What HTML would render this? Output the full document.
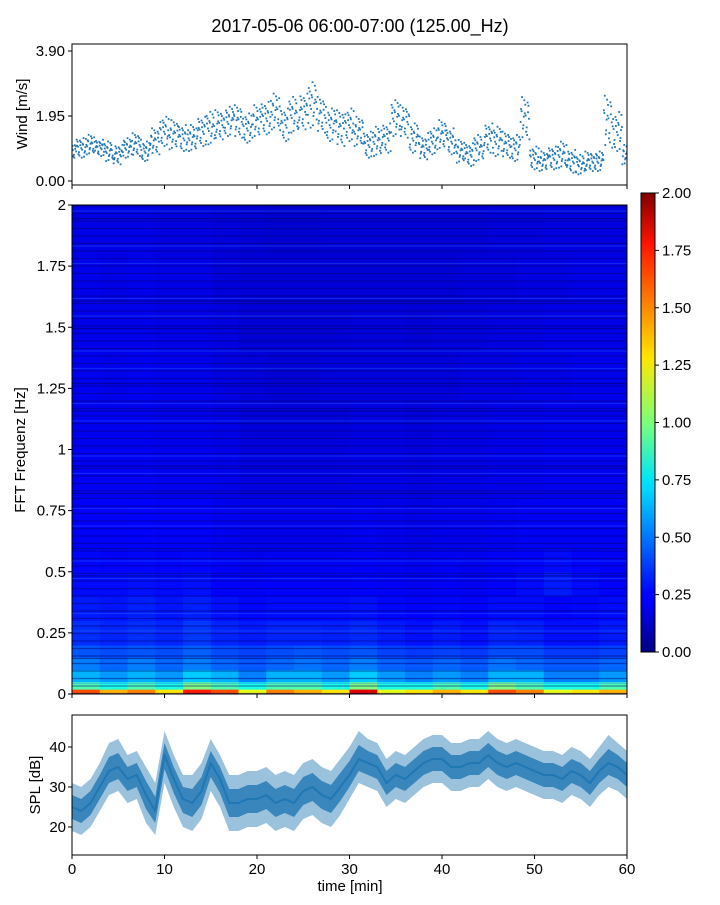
<!DOCTYPE html>
<html><head><meta charset="utf-8"><style>
html,body{margin:0;padding:0;background:#fff;}
svg text{font-family:"Liberation Sans","DejaVu Sans",sans-serif;fill:#000;}
</style></head><body>
<svg id="fig" width="720" height="900" viewBox="0 0 720 900" xmlns="http://www.w3.org/2000/svg">
<rect width="720" height="900" fill="#fff"/>
<text x="360" y="32" font-size="18" text-anchor="middle">2017-05-06 06:00-07:00 (125.00_Hz)</text>
<defs>
<linearGradient id="jet" x1="0" y1="1" x2="0" y2="0">
<stop offset="0" stop-color="#00007f"/><stop offset="0.11" stop-color="#0000ff"/><stop offset="0.125" stop-color="#0000ff"/>
<stop offset="0.35" stop-color="#00d4ff"/><stop offset="0.375" stop-color="#00e5f7"/><stop offset="0.5" stop-color="#7cff79"/>
<stop offset="0.64" stop-color="#ffe600"/><stop offset="0.89" stop-color="#ff1300"/><stop offset="1" stop-color="#7f0000"/>
</linearGradient>
<clipPath id="c1"><rect x="72" y="44" width="555" height="141"/></clipPath>
<clipPath id="c3"><rect x="72" y="715" width="555" height="140"/></clipPath>
</defs>
<g id="wind"></g>
<g id="spec"></g>
<g id="cbar"></g>
<g id="spl"></g>
</svg>
<script>
// ---- data ----
const windMean=[0.9,1.0,1.1,1.0,0.9,0.8,1.0,1.1,0.9,1.2,1.5,1.4,1.3,1.3,1.5,1.6,1.7,1.8,1.8,1.6,1.8,1.9,2.1,1.7,2.0,2.1,2.3,2.0,1.7,1.6,1.7,1.5,1.1,1.2,1.3,1.9,1.8,1.3,1.0,1.2,1.4,1.2,0.9,0.8,1.0,1.3,1.2,1.1,1.0,1.9,0.7,0.6,0.7,0.8,0.6,0.5,0.6,0.6,1.8,1.5,0.8];
const windSpread=[0.5,0.6,0.6,0.5,0.6,0.6,0.6,0.7,0.6,0.8,0.9,0.9,0.8,0.8,0.9,1.0,0.9,0.9,1.0,0.9,1.0,1.0,1.1,1.0,1.1,1.1,1.4,1.1,1.0,1.1,1.0,0.9,0.8,0.9,0.9,1.1,1.0,0.9,0.7,0.8,0.9,0.8,0.7,0.7,0.8,0.9,0.9,0.8,0.8,1.3,0.7,0.6,0.7,0.8,0.7,0.6,0.6,0.6,1.6,1.2,0.6];
const splMean=[25,24,26,30,34,35,32,33,28,24,38,32,27,26,29,36,32,26,26,27,27,28,26,27,26,29,30,28,27,30,33,37,36,35,31,33,32,34,36,37,37,35,35,36,36,38,36,35,36,35,34,33,33,32,34,33,31,34,36,35,33];
const splLo=[19,18,20,24,28,29,26,27,21,18,31,25,20,19,22,29,25,19,19,20,20,21,19,20,19,22,23,21,20,23,27,31,30,29,25,27,26,28,30,31,31,29,29,30,30,32,30,29,30,29,28,27,27,26,28,27,25,28,30,29,27];
const splHi=[31,30,32,36,41,42,38,39,35,31,44,38,33,33,36,42,38,33,33,34,34,35,33,34,33,36,37,35,34,37,40,44,42,41,37,39,38,40,42,43,43,41,41,42,42,44,42,41,42,41,40,39,39,38,40,39,37,40,43,41,39];
const freqEdges=[0,0.02,0.05,0.1,0.15,0.2,0.3,0.4,0.5,0.6,0.8,1.0,1.2,1.4,1.6,1.8,2.0];
const timeEdges=[0,3,6,9,12,15,18,21,24,27,30,33,36,39,42,45,48,51,54,57,60];
const specVals=[
[1.6,1.4,1.5,1.3,1.7,1.6,1.2,1.5,1.4,1.3,1.8,1.2,1.3,1.4,1.3,1.6,1.5,1.2,1.3,1.4],
[0.9,0.8,0.9,0.8,1.0,0.9,0.8,0.9,0.9,0.8,1.0,0.8,0.8,0.9,0.8,1.0,0.9,0.8,0.8,0.9],
[0.6,0.55,0.6,0.55,0.65,0.6,0.5,0.6,0.6,0.55,0.65,0.55,0.5,0.55,0.5,0.6,0.6,0.5,0.5,0.55],
[0.5,0.45,0.5,0.45,0.5,0.45,0.42,0.45,0.48,0.45,0.5,0.44,0.42,0.45,0.42,0.48,0.45,0.42,0.42,0.45],
[0.42,0.4,0.42,0.4,0.44,0.4,0.38,0.4,0.42,0.4,0.42,0.38,0.36,0.38,0.36,0.4,0.4,0.36,0.36,0.38],
[0.34,0.32,0.34,0.32,0.36,0.32,0.3,0.32,0.32,0.31,0.33,0.3,0.28,0.3,0.28,0.32,0.31,0.28,0.28,0.3],
[0.3,0.29,0.31,0.29,0.31,0.28,0.26,0.27,0.27,0.27,0.28,0.26,0.25,0.26,0.25,0.27,0.27,0.25,0.26,0.27],
[0.27,0.27,0.28,0.27,0.28,0.25,0.24,0.25,0.25,0.24,0.25,0.24,0.23,0.24,0.23,0.25,0.27,0.3,0.27,0.25],
[0.26,0.25,0.26,0.25,0.26,0.24,0.22,0.23,0.23,0.23,0.24,0.23,0.22,0.23,0.22,0.24,0.25,0.27,0.25,0.24],
[0.24,0.24,0.25,0.24,0.24,0.22,0.21,0.21,0.21,0.21,0.22,0.21,0.2,0.21,0.21,0.22,0.23,0.23,0.23,0.23],
[0.23,0.23,0.23,0.22,0.22,0.21,0.19,0.19,0.19,0.19,0.2,0.2,0.19,0.2,0.2,0.21,0.21,0.22,0.22,0.22],
[0.22,0.22,0.22,0.21,0.21,0.2,0.18,0.18,0.18,0.18,0.19,0.19,0.18,0.19,0.19,0.2,0.2,0.21,0.21,0.21],
[0.22,0.21,0.22,0.21,0.21,0.19,0.18,0.17,0.17,0.18,0.18,0.18,0.18,0.18,0.19,0.19,0.2,0.2,0.21,0.21],
[0.21,0.21,0.21,0.2,0.2,0.19,0.17,0.17,0.17,0.17,0.18,0.18,0.17,0.18,0.18,0.19,0.19,0.2,0.2,0.2],
[0.21,0.2,0.21,0.2,0.2,0.18,0.17,0.17,0.17,0.17,0.17,0.17,0.17,0.17,0.18,0.18,0.19,0.19,0.2,0.2],
[0.2,0.2,0.2,0.19,0.19,0.18,0.17,0.16,0.16,0.17,0.17,0.17,0.17,0.17,0.17,0.18,0.18,0.19,0.19,0.19]];
const freqTicks=[0,0.25,0.5,0.75,1,1.25,1.5,1.75,2];
const freqTickLabels=["0","0.25","0.5","0.75","1","1.25","1.5","1.75","2"];
const cbTicks=[0,0.25,0.5,0.75,1,1.25,1.5,1.75,2];
const windTicks=[0,1.95,3.9];
const splTicks=[20,30,40];
const timeTicks=[0,10,20,30,40,50,60];

const NS="http://www.w3.org/2000/svg";
function mk(parent,tag,attrs,text){const e=document.createElementNS(NS,tag);for(const k in attrs)e.setAttribute(k,attrs[k]);if(text!==undefined)e.textContent=text;parent.appendChild(e);return e;}
const X0=72,X1=627;
const xs=t=>X0+(X1-X0)*t/60;
const yWind=v=>181-(181-51)*v/3.9;
const yFreq=f=>694-(694-205)*f/2;
const ySpl=v=>787-(787-747)*(v-30)/10;
const yCb=v=>652-(652-193)*v/2;
function jet(t){t=Math.max(0,Math.min(1,t));const c=x=>Math.round(255*Math.max(0,Math.min(1,1.5-Math.abs(4*t-x))));return `rgb(${c(3)},${c(2)},${c(1)})`;}

// ---- wind panel ----
const W=document.getElementById('wind');
const wd=mk(W,'g',{'clip-path':'url(#c1)'});


const offs=[-1,0.3,-0.5,0.8,0.1,-0.8,0.55,-0.2,0.95,-0.35,0.2,-0.65,0.7,-0.05,0.4,-0.9,0.05,0.6,-0.45,0.25];
const N=20;
for(let i=0;i<windMean.length;i++){
  for(let j=0;j<N;j++){
    const t=i-0.5+j/N;
    const v=windMean[i]+offs[(j*7+i*3)%N]*windSpread[i]/2;
    const p=mk(wd,'rect',{x:xs(t)-0.9,y:yWind(v)-0.9,width:1.8,height:1.8,fill:'#1f77b4'});
    
    
  }
}
mk(W,'rect',{x:X0,y:44,width:X1-X0,height:141,fill:'none',stroke:'#000','stroke-width':1});
windTicks.forEach(v=>{mk(W,'line',{x1:X0-4,x2:X0,y1:yWind(v),y2:yWind(v),stroke:'#000'});
  const t=mk(W,'text',{x:X0-7,y:yWind(v)+5,'font-size':15,'text-anchor':'end'},v.toFixed(2));
  });
timeTicks.forEach(v=>mk(W,'line',{x1:xs(v),x2:xs(v),y1:185,y2:189,stroke:'#000'}));
const wl=mk(W,'text',{x:27,y:114,'font-size':15,'text-anchor':'middle',transform:'rotate(-90 27 114)'},'Wind [m/s]');


// ---- spectrogram ----
const S=document.getElementById('spec');
for(let r=0;r<specVals.length;r++){for(let c=0;c<specVals[r].length;c++){
  const x=xs(timeEdges[c]),y=yFreq(freqEdges[r+1]);
  const cell=mk(S,'rect',{x:x,y:y,width:xs(timeEdges[c+1])-x+0.5,height:yFreq(freqEdges[r])-y+0.5,fill:jet(specVals[r][c]/2)});
  
  
}}
// horizontal streak texture
for(let k=0;k*2.5<488;k++){
  const y=206+k*2.5;
  let col=null;
  if(k%3===0)col='rgba(0,0,110,0.45)';
  else if(k%7===2)col='rgba(40,110,255,0.35)';
  else if(k%11===5)col='rgba(0,0,90,0.5)';
  if(col)mk(S,'line',{x1:X0,x2:X1,y1:y,y2:y,stroke:col,'stroke-width':1.3});
}
mk(S,'rect',{x:X0,y:205,width:X1-X0,height:489,fill:'none',stroke:'#000'});
freqTicks.forEach((v,i)=>{mk(S,'line',{x1:X0-4,x2:X0,y1:yFreq(v),y2:yFreq(v),stroke:'#000'});
  const t=mk(S,'text',{x:X0-6,y:yFreq(v)+5,'font-size':15,'text-anchor':'end'},freqTickLabels[i]);
  });
timeTicks.forEach(v=>mk(S,'line',{x1:xs(v),x2:xs(v),y1:694,y2:698,stroke:'#000'}));
const fl=mk(S,'text',{x:25,y:450,'font-size':15,'text-anchor':'middle',transform:'rotate(-90 25 450)'},'FFT Frequenz [Hz]');


// ---- colorbar ----
const C=document.getElementById('cbar');
mk(C,'rect',{x:641,y:193,width:14,height:459,fill:'url(#jet)',stroke:'#000'});
cbTicks.forEach(v=>{mk(C,'line',{x1:655,x2:659,y1:yCb(v),y2:yCb(v),stroke:'#000'});
  const t=mk(C,'text',{x:662,y:yCb(v)+5,'font-size':15},v.toFixed(2));
  });

// ---- SPL ----
const P=document.getElementById('spl');
const g3=mk(P,'g',{'clip-path':'url(#c3)'});
let d='';for(let i=0;i<splHi.length;i++)d+=(i?'L':'M')+xs(i)+','+ySpl(splHi[i]);
for(let i=splLo.length-1;i>=0;i--)d+='L'+xs(i)+','+ySpl(splLo[i]);
const band=mk(g3,'path',{d:d+'Z',fill:'#1f77b4','fill-opacity':0.45});

let d3='';for(let i=0;i<splHi.length;i++)d3+=(i?'L':'M')+xs(i)+','+ySpl((splHi[i]+splMean[i])/2);
for(let i=splLo.length-1;i>=0;i--)d3+='L'+xs(i)+','+ySpl((splLo[i]+splMean[i])/2);
const core=mk(g3,'path',{d:d3+'Z',fill:'#1f77b4','fill-opacity':0.8});

let d2='';for(let i=0;i<splMean.length;i++)d2+=(i?'L':'M')+xs(i)+','+ySpl(splMean[i]);
const ln=mk(g3,'path',{d:d2,fill:'none',stroke:'#1f77b4','stroke-width':2,'stroke-linejoin':'round'});

mk(P,'rect',{x:X0,y:715,width:X1-X0,height:140,fill:'none',stroke:'#000'});
splTicks.forEach(v=>{mk(P,'line',{x1:X0-4,x2:X0,y1:ySpl(v),y2:ySpl(v),stroke:'#000'});
  const t=mk(P,'text',{x:X0-6,y:ySpl(v)+5,'font-size':15,'text-anchor':'end'},String(v));
  });
timeTicks.forEach(v=>{mk(P,'line',{x1:xs(v),x2:xs(v),y1:855,y2:859,stroke:'#000'});
  const t=mk(P,'text',{x:xs(v),y:874,'font-size':15,'text-anchor':'middle'},String(v));
  });
const sl=mk(P,'text',{x:40,y:785,'font-size':15,'text-anchor':'middle',transform:'rotate(-90 40 785)'},'SPL [dB]');

const xl=mk(P,'text',{x:350,y:891,'font-size':15,'text-anchor':'middle'},'time [min]');

</script>
</body></html>
